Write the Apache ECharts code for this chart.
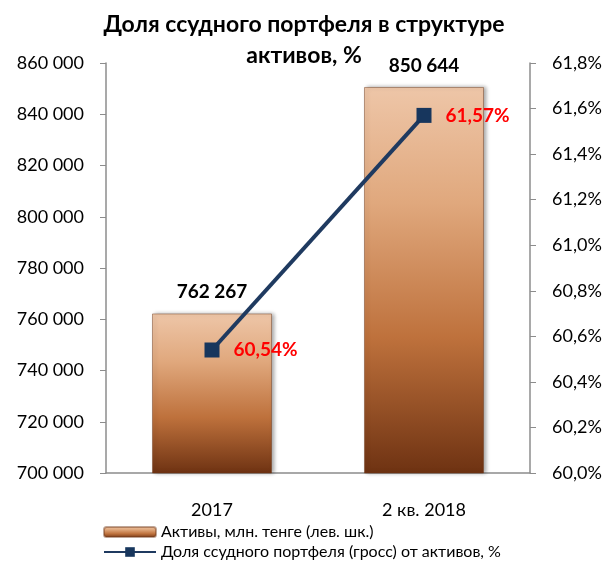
<!DOCTYPE html>
<html>
<head>
<meta charset="utf-8">
<script src="https://cdn.jsdelivr.net/npm/echarts@6/dist/echarts.min.js"></script>
<style>
  html, body { margin: 0; padding: 0; background: #fff; }
  #main { width: 608px; height: 563px; }
</style>
</head>
<body>
<div id="main"></div>
<script>
// данные
const categories = ['2017', '2 кв. 2018'];
const assets = [762267, 850644];        // Активы, млн. тенге
const loanShare = [60.54, 61.57];       // Доля ссудного портфеля, %

const FONT = 'Lato';
const nameBar = 'Активы, млн. тенге (лев. шк.)';
const nameLine = 'Доля ссудного портфеля (гросс) от активов, %';

function fmtThousands (v) {
  return String(Math.round(v)).replace(/\B(?=(\d{3})+(?!\d))/g, ' ');
}
function fmtPct (v, d) {
  return v.toFixed(d).replace('.', ',') + '%';
}

const barColor = new echarts.graphic.LinearGradient(0, 0, 0, 1, [
  { offset: 0, color: '#EEC6A8' },
  { offset: 0.3, color: '#E0A87D' },
  { offset: 0.65, color: '#BE713C' },
  { offset: 1, color: '#6E3212' }
]);

const legendText = { fontFamily: FONT, fontSize: 16, color: '#000' };

const chart = echarts.init(document.getElementById('main'));
chart.setOption({
  animation: false,
  textStyle: { fontFamily: FONT },
  title: {
    text: 'Доля ссудного портфеля в структуре\nактивов, %',
    left: 'center',
    top: 4,
    textStyle: { fontFamily: FONT, fontWeight: 'bold', fontSize: 23, color: '#000', lineHeight: 31 }
  },
  legend: [
    {
      left: 98, top: 519, itemWidth: 52, itemHeight: 10,
      textStyle: legendText, data: [nameBar]
    },
    {
      left: 98, top: 539, itemWidth: 52, itemHeight: 12,
      textStyle: legendText, data: [nameLine]
    }
  ],
  grid: { left: 106, right: 78, top: 63, bottom: 90 },
  xAxis: {
    type: 'category',
    data: categories,
    axisLine: { lineStyle: { color: '#8c8c8c', width: 1.5 } },
    axisTick: { show: false },
    axisLabel: { fontFamily: FONT, fontSize: 18, color: '#000', margin: 28 }
  },
  yAxis: [
    {
      type: 'value',
      min: 700000,
      max: 860000,
      interval: 20000,
      splitLine: { show: false },
      axisLine: { show: true, lineStyle: { color: '#8c8c8c', width: 1.5 } },
      axisTick: { show: true, length: 6, lineStyle: { color: '#8c8c8c' } },
      axisLabel: { fontFamily: FONT, fontSize: 18, color: '#000', margin: 22, formatter: fmtThousands }
    },
    {
      type: 'value',
      min: 60,
      max: 61.8,
      interval: 0.2,
      splitLine: { show: false },
      axisLine: { show: true, lineStyle: { color: '#8c8c8c', width: 1.5 } },
      axisTick: { show: true, length: 6, lineStyle: { color: '#8c8c8c' } },
      axisLabel: { fontFamily: FONT, fontSize: 18, color: '#000', margin: 22, formatter: v => fmtPct(v, 1) }
    }
  ],
  series: [
    {
      name: nameBar,
      type: 'bar',
      data: assets,
      barWidth: 120,
      itemStyle: {
        color: barColor,
        borderColor: 'rgba(110,55,25,0.45)',
        borderWidth: 1,
        shadowColor: 'rgba(0,0,0,0.35)',
        shadowBlur: 4,
        shadowOffsetX: 2
      },
      label: {
        show: true,
        position: 'top',
        distance: 12,
        fontFamily: FONT,
        fontWeight: 'bold',
        fontSize: 19,
        color: '#000',
        formatter: p => fmtThousands(p.value)
      }
    },
    {
      name: nameLine,
      type: 'line',
      yAxisIndex: 1,
      data: loanShare,
      symbol: 'rect',
      symbolSize: 15,
      z: 5,
      lineStyle: { color: '#1F3A60', width: 4 },
      itemStyle: { color: '#17365D' },
      label: {
        show: true,
        position: 'right',
        distance: 14,
        fontFamily: FONT,
        fontWeight: 'bold',
        fontSize: 19,
        color: '#FF0000',
        formatter: p => fmtPct(p.value, 2)
      }
    }
  ]
});
</script>
</body>
</html>
